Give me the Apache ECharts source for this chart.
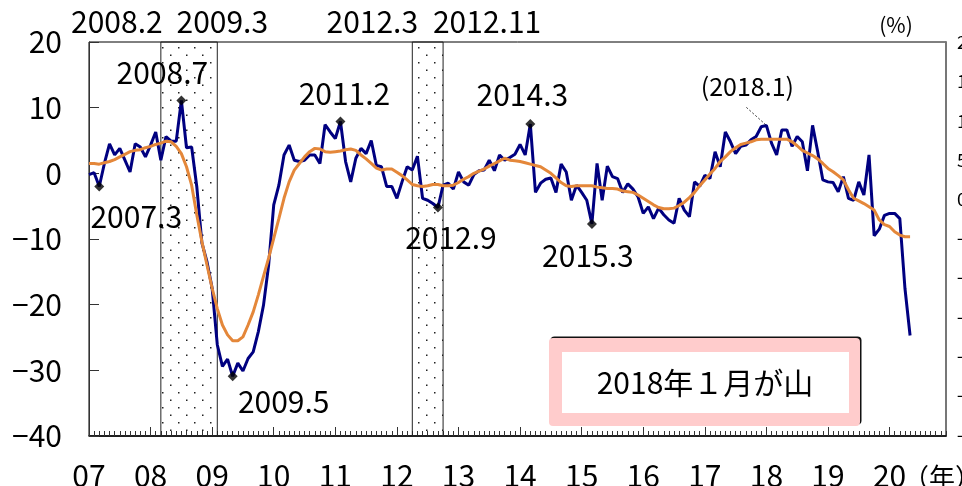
<!DOCTYPE html>
<html><head><meta charset="utf-8">
<script src="https://cdn.jsdelivr.net/npm/echarts@6/dist/echarts.min.js"></script>
<style>html,body{margin:0;padding:0;background:#fff}#c{width:962px;height:486px}</style>
</head><body><div id="c"></div>
<script>
// ---- data ----
const years = [2007,2008,2009,2010,2011,2012,2013,2014,2015,2016,2017,2018,2019,2020];
const months = [1,2,3,4,5,6,7,8,9,10,11,12];
const categories = [];
years.forEach(y => months.forEach(m => categories.push(y + '.' + m)));

// monthly YoY (%) from 2007.1 to 2020.5
const yoyValues = [
  -0.2, 0.1, -2.0, 1.5, 4.5, 2.8, 3.8, 2.0, 0.2, 4.5, 4.0, 2.5,
  4.3, 6.3, 2.0, 5.6, 4.9, 4.9, 11.1, 3.9, 4.0, -2.0, -10.6, -13.5,
  -17.5, -26.1, -29.4, -28.3, -30.9, -28.9, -30.1, -28.2, -27.2, -24.1, -20.1, -14.0,
  -4.8, -1.8, 2.8, 4.3, 2.0, 1.8, 2.0, 2.8, 2.8, 1.5, 7.4, 6.3,
  5.3, 7.9, 1.8, -1.3, 2.3, 3.8, 3.0, 5.0, 1.2, 1.0, -2.0, -2.0,
  -3.8, -1.3, 1.0, 0.5, 2.6, -3.8, -4.1, -4.6, -5.2, -1.8, -1.5, -2.4,
  0.2, -1.3, -1.8, -0.2, 0.4, 0.5, 2.0, 0.4, 2.8, 2.0, 2.4, 2.9,
  4.4, 2.8, 7.5, -2.9, -1.5, -0.9, -0.7, -2.9, 1.4, 0.2, -4.1, -1.8,
  -2.9, -4.1, -7.7, 1.5, -4.1, 1.1, -0.5, -0.8, -2.9, -1.6, -2.4, -3.6,
  -6.1, -5.1, -6.9, -5.3, -6.3, -7.1, -7.6, -3.8, -5.6, -6.6, -1.3, -2.0,
  -0.3, -0.8, 3.3, 1.0, 6.3, 4.8, 3.0, 4.1, 4.3, 5.1, 5.6, 7.1,
  7.3, 4.6, 2.8, 6.6, 6.6, 4.1, 5.6, 4.8, 0.4, 7.3, 3.3, -1.0,
  -1.3, -1.4, -2.8, -0.5, -3.8, -4.1, -1.3, -3.3, 2.8, -9.5, -8.5, -6.4,
  -6.1, -6.1, -6.9, -17.5, -24.7
];
// smoothed trend
const trendValues = [
  1.5, 1.5, 1.4, 1.6, 1.8, 2.1, 2.5, 2.9, 3.3, 3.5, 3.6, 3.9,
  4.1, 4.4, 4.6, 4.9, 4.8, 4.1, 3.0, 1.0, -1.8, -6.3, -10.4, -14.0,
  -17.5, -20.6, -23.1, -24.6, -25.5, -25.5, -24.9, -23.1, -21.1, -18.5, -15.7, -12.9,
  -9.9, -6.9, -3.8, -1.3, 0.5, 1.5, 2.5, 3.3, 3.8, 3.7, 3.3, 3.2,
  3.3, 3.4, 3.6, 3.7, 3.5, 2.8, 2.2, 1.5, 0.8, 0.5, 0.65, 0.65,
  0.15, -0.35, -1.0, -1.7, -1.9, -2.0, -1.9, -1.7, -1.7, -1.9, -1.9, -1.8,
  -1.4, -0.9, -0.5, 0.0, 0.35, 0.65, 1.1, 1.5, 1.9, 2.3, 2.0, 1.9,
  1.8, 1.6, 1.4, 1.2, 1.0, 0.5, 0.0, -0.7, -1.4, -1.9, -2.0, -1.9,
  -1.9, -1.9, -1.9, -2.1, -2.2, -2.3, -2.3, -2.4, -2.7, -2.8, -2.9, -3.3,
  -3.8, -4.3, -4.8, -5.2, -5.4, -5.4, -5.3, -4.9, -4.4, -3.7, -2.9, -1.9,
  -1.0, -0.1, 0.75, 1.8, 2.5, 3.3, 3.9, 4.4, 4.6, 4.8, 5.1, 5.2,
  5.2, 5.2, 5.2, 5.2, 5.2, 4.8, 4.2, 3.5, 3.1, 2.7, 2.2, 1.5,
  0.75, 0.25, -0.35, -1.0, -2.5, -3.8, -4.2, -4.6, -5.1, -5.6, -7.1, -7.8,
  -8.1, -8.9, -9.4, -9.65, -9.65
];
const yTickValues = [20, 10, 0, -10, -20, -30, -40];
const rightTickValues = [20, 15, 10, 5, 0, -5, -10, -15, -20, -25, -30];
const recessionPeaks = ['2008.2', '2012.3'];
const recessionTroughs = ['2009.3', '2012.11'];
const markedMonths = ['2007.3', '2008.7', '2009.5', '2011.2', '2012.9', '2014.3', '2015.3'];
const cycleTopMonth = '2018.1';
const noteText = '2018年１月が山';

// ---- styles ----
const FONT = '"Noto Sans CJK JP", "Liberation Sans", sans-serif';
const markerLabelOffsets = [[37, 30], [-19, -28], [51, 25], [4, -28], [13, 30], [-8, -29], [-4, 32]];
const peakLabelShift = [-44, -40];
const troughLabelShift = [5, 44];

const chart = echarts.init(document.getElementById('c'), null, {renderer: 'canvas'});

// dot pattern for recession bands
const pc = document.createElement('canvas');
pc.width = 16; pc.height = 15;
const pg = pc.getContext('2d');
pg.fillStyle = '#222';
pg.fillRect(2, 2, 1.5, 1.5);
pg.fillRect(10, 9.5, 1.5, 1.5);

const shadeAreas = recessionPeaks.map((p, k) => {
  const a = categories.indexOf(p) + 1;
  const b = categories.indexOf(recessionTroughs[k]) - 1;
  return [{xAxis: categories[a]}, {xAxis: categories[b]}];
});

const markerData = markedMonths.map((m) => [m, yoyValues[categories.indexOf(m)]]);

const axisFontColor = '#000';
const yMin = yTickValues[yTickValues.length - 1], yMax = yTickValues[0];
const minus = (v) => String(v).replace('-', '\u2212');

const option = {
  animation: false,
  backgroundColor: '#fff',
  textStyle: {fontFamily: FONT},
  grid: {left: 89, right: 16, top: 42, bottom: 50, show: true, borderColor: '#000', borderWidth: 1,
    containLabel: false, outerBoundsMode: 'none'},
  xAxis: [{
    type: 'category', data: categories, boundaryGap: false,
    axisLine: {show: true, onZero: false, lineStyle: {color: '#000', width: 1.5}},
    axisTick: {show: true, inside: true, length: 5, interval: 0, lineStyle: {color: '#333', width: 1}},
    axisLabel: {
      show: true, interval: (i) => i % 12 === 0, hideOverlap: false,
      formatter: (v) => v.slice(2, 4), fontSize: 30, lineHeight: 30, margin: 25,
      color: axisFontColor, fontFamily: FONT
    },
    splitLine: {show: false}
  }, {
    type: 'category', data: categories, boundaryGap: false, position: 'bottom',
    axisLine: {show: false, onZero: false},
    axisTick: {show: true, inside: true, length: 9, interval: (i) => i % 12 === 0, lineStyle: {color: '#333', width: 1}},
    axisLabel: {show: false}, splitLine: {show: false}
  }],
  yAxis: [{
    type: 'value', min: yMin, max: yMax, interval: 10,
    axisLine: {show: true, lineStyle: {color: '#333', width: 1}},
    axisTick: {show: true, inside: true, length: 10, lineStyle: {color: '#333', width: 1}},
    axisLabel: {fontSize: 30, color: axisFontColor, margin: 27, fontFamily: FONT, formatter: minus},
    splitLine: {show: false}
  }, {
    type: 'value', position: 'right', min: rightTickValues[rightTickValues.length - 1], max: rightTickValues[0], interval: 5,
    axisLine: {show: true, lineStyle: {color: '#777', width: 2}},
    axisTick: {show: false},
    axisLabel: {fontSize: 18, color: axisFontColor, margin: 11, fontFamily: FONT, formatter: minus},
    splitLine: {show: false}
  }],
  series: [{
    name: 'band', type: 'line', data: [], z: 1, silent: true,
    markArea: {
      silent: true,
      itemStyle: {color: {image: pc, repeat: 'repeat'}, borderColor: '#222', borderWidth: 1},
      data: shadeAreas
    }
  }, {
    name: 'yoy', type: 'line', data: yoyValues, z: 3,
    showSymbol: false, symbol: 'none',
    lineStyle: {color: '#000080', width: 3}
  }, {
    name: 'trend', type: 'line', data: trendValues, z: 4,
    showSymbol: false, symbol: 'none',
    lineStyle: {color: '#E4873A', width: 3}
  }, {
    name: 'marks', type: 'scatter', data: markerData, z: 6,
    symbol: 'diamond', symbolSize: 10,
    itemStyle: {color: '#000'}
  }]
};
chart.setOption(option);

// graphics positioned through the chart's own scales
const gfx = [];
const txt = (x, y, s, size, align) => ({type: 'text', x: x, y: y, z: 30,
  style: {text: s, font: size + 'px ' + FONT, fill: '#000', align: align || 'center', verticalAlign: 'middle'}});
recessionPeaks.forEach((p, k) => {
  const xa = chart.convertToPixel({xAxisIndex: 0}, shadeAreas[k][0].xAxis);
  const xb = chart.convertToPixel({xAxisIndex: 0}, shadeAreas[k][1].xAxis);
  gfx.push(txt(xa + peakLabelShift[k], 22, p, 30));
  gfx.push(txt(xb + troughLabelShift[k], 22, recessionTroughs[k], 30));
});
markerData.forEach((d, k) => {
  const p = chart.convertToPixel({gridIndex: 0}, d);
  gfx.push(txt(p[0] + markerLabelOffsets[k][0], p[1] + markerLabelOffsets[k][1], d[0], 30));
});
const tp = chart.convertToPixel({gridIndex: 0}, [cycleTopMonth, yoyValues[categories.indexOf(cycleTopMonth)]]);
gfx.push(txt(tp[0] - 19, tp[1] - 39, '(' + cycleTopMonth + ')', 25));
gfx.push({type: 'line', shape: {x1: tp[0] - 20, y1: tp[1] - 18, x2: tp[0] - 1, y2: tp[1] - 1},
  style: {stroke: '#000', lineWidth: 0.8, lineDash: [2, 2]}, z: 10});
gfx.push(txt(896, 25, '(%)', 21));
gfx.push(txt(903, 477, '（年）', 26, 'left'));
// note box
gfx.push({type: 'rect', shape: {x: 549, y: 338, width: 311, height: 88, r: 4},
  style: {fill: '#FFCCCC', shadowColor: '#111', shadowOffsetX: 1.5, shadowOffsetY: -1.5, shadowBlur: 0}, z: 20});
gfx.push({type: 'rect', shape: {x: 562, y: 352, width: 287, height: 61}, style: {fill: '#fff'}, z: 21});
gfx.push(Object.assign(txt(705, 383, noteText, 30), {z: 22}));
chart.setOption({graphic: gfx});
</script></body></html>
